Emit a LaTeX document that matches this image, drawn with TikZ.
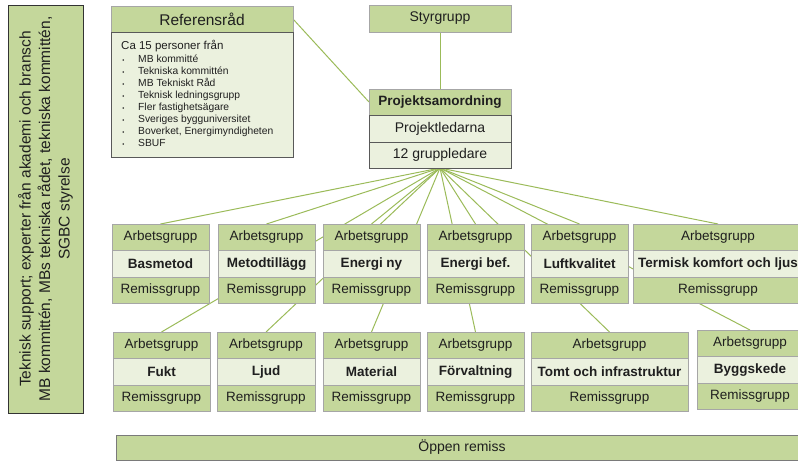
\documentclass[tikz,border=0pt]{standalone}
\usepackage{fontspec}
\setmainfont{Liberation Sans}
\usetikzlibrary{backgrounds}
\definecolor{hdr}{HTML}{C4D79B}
\definecolor{lite}{HTML}{EBF1DE}
\definecolor{bgrey}{HTML}{A6A6A6}
\definecolor{dgrey}{HTML}{595959}
\definecolor{connc}{HTML}{9BBB59}
\tikzset{
  x=1pt, y=-1pt,
  ag/.style={draw=bgrey, fill=hdr, line width=0.9pt, minimum height=26.5pt, inner sep=0pt, outer sep=0pt,
    text=black!88, font=\fontsize{13.5}{16}\selectfont},
  midrow/.style={ag, fill=lite, font=\bfseries\fontsize{13.5}{16}\selectfont},
  connline/.style={draw=connc, line width=1pt},
  itemsty/.style={anchor=base west, inner sep=0pt, text=black!88, font=\fontsize{10.3}{12}\selectfont},
  bulsty/.style={anchor=base, inner sep=0pt, text=black!88, font=\fontsize{6}{7}\selectfont},
}
\newcommand\grp[5]{%
  \node[ag, minimum width=#3pt, anchor=north west] (#1a) at (#2,#4) {Arbetsgrupp};
  \node[midrow, minimum width=#3pt, anchor=north] (#1m) at (#1a.south) {#5};
  \node[ag, minimum width=#3pt, anchor=north] (#1r) at (#1m.south) {Remissgrupp};
}
\begin{document}
\begin{tikzpicture}
\useasboundingbox (0,0) rectangle (798,461);
\clip (0,0) rectangle (798,461);

% left support box
\node[draw=black!80, fill=hdr, line width=0.9pt, rotate=90, minimum width=408pt, minimum height=75pt,
  inner sep=0pt, align=center, text=black!88, font=\fontsize{15.5}{19.5}\selectfont]
  (sup) at (45.5,209) {Teknisk support; experter från akademi och bransch\\
  MB kommittén, MBs tekniska rådet, tekniska kommittén,\\ SGBC styrelse};

% Referensråd
\node[ag, minimum width=182pt, minimum height=26pt, anchor=north west, font=\fontsize{15.5}{18}\selectfont]
  (refh) at (111,6) {Referensråd};
\node[draw=dgrey, fill=lite, line width=0.9pt, minimum width=182pt, minimum height=125pt, anchor=north,
  inner sep=0pt, outer sep=0pt] (refb) at (refh.south) {};
\node[anchor=base west, inner sep=0pt, text=black!88, font=\fontsize{11.5}{13}\selectfont]
  (refca) at (121,49) {Ca 15 personer från};
\foreach \t [count=\i] in {MB kommitté, Tekniska kommittén, MB Tekniskt Råd, Teknisk ledningsgrupp,
  Fler fastighetsägare, Sveriges bygguniversitet, {Boverket, Energimyndigheten}, SBUF} {
  \node[bulsty] (bu\i) at (123.5,{62.5+12*(\i-1)}) {•};
  \node[itemsty] (li\i) at (138,{62.5+12*(\i-1)}) {\t};
}

% Styrgrupp and Projektsamordning
\node[ag, minimum width=142pt, minimum height=27pt, anchor=north west, font=\fontsize{14}{16}\selectfont]
  (styr) at (369,5) {Styrgrupp};
\node[ag, minimum width=142pt, minimum height=26pt, anchor=north west, font=\bfseries\fontsize{13.5}{16}\selectfont]
  (p1) at (369,89) {Projektsamordning};
\node[ag, draw=dgrey, fill=lite, minimum width=142pt, minimum height=27pt, anchor=north, font=\fontsize{14}{16}\selectfont]
  (p2) at (p1.south) {Projektledarna};
\node[ag, draw=dgrey, fill=lite, minimum width=142pt, minimum height=26pt, anchor=north, font=\fontsize{14}{16}\selectfont]
  (p3) at (p2.south) {12 gruppledare};

% groups, top row
\grp{t1}{112}{97}{224}{Basmetod}
\grp{t2}{218}{97}{224}{Metodtillägg}
\grp{t3}{323}{97}{224}{Energi ny}
\grp{t4}{427}{97}{224}{Energi bef.}
\grp{t5}{531}{97}{224}{Luftkvalitet}
\grp{t6}{633}{170}{224}{Termisk komfort och ljus}
% groups, bottom row
\grp{b1}{113}{97}{332}{Fukt}
\grp{b2}{217}{98}{332}{Ljud}
\grp{b3}{323}{97}{332}{Material}
\grp{b4}{427}{97}{332}{Förvaltning}
\grp{b5}{531}{157}{332}{Tomt och infrastruktur}
\grp{b6}{697}{106}{330}{Byggskede}

% Öppen remiss
\node[ag, draw=dgrey!80, minimum width=692pt, minimum height=25pt, anchor=north west, font=\fontsize{14}{16}\selectfont]
  (open) at (116,435) {Öppen remiss};

% connectors
\begin{scope}[on background layer]
  \draw[connline] (styr.south) -- (p1.north);
  \draw[connline] (refh.east) -- (p1.west);
  \foreach \n in {t1,t2,t3,t4,t5,t6,b1,b2,b3,b4,b5,b6}
    \draw[connline] (p3.south) -- (\n a.north);
\end{scope}
\end{tikzpicture}
\end{document}
